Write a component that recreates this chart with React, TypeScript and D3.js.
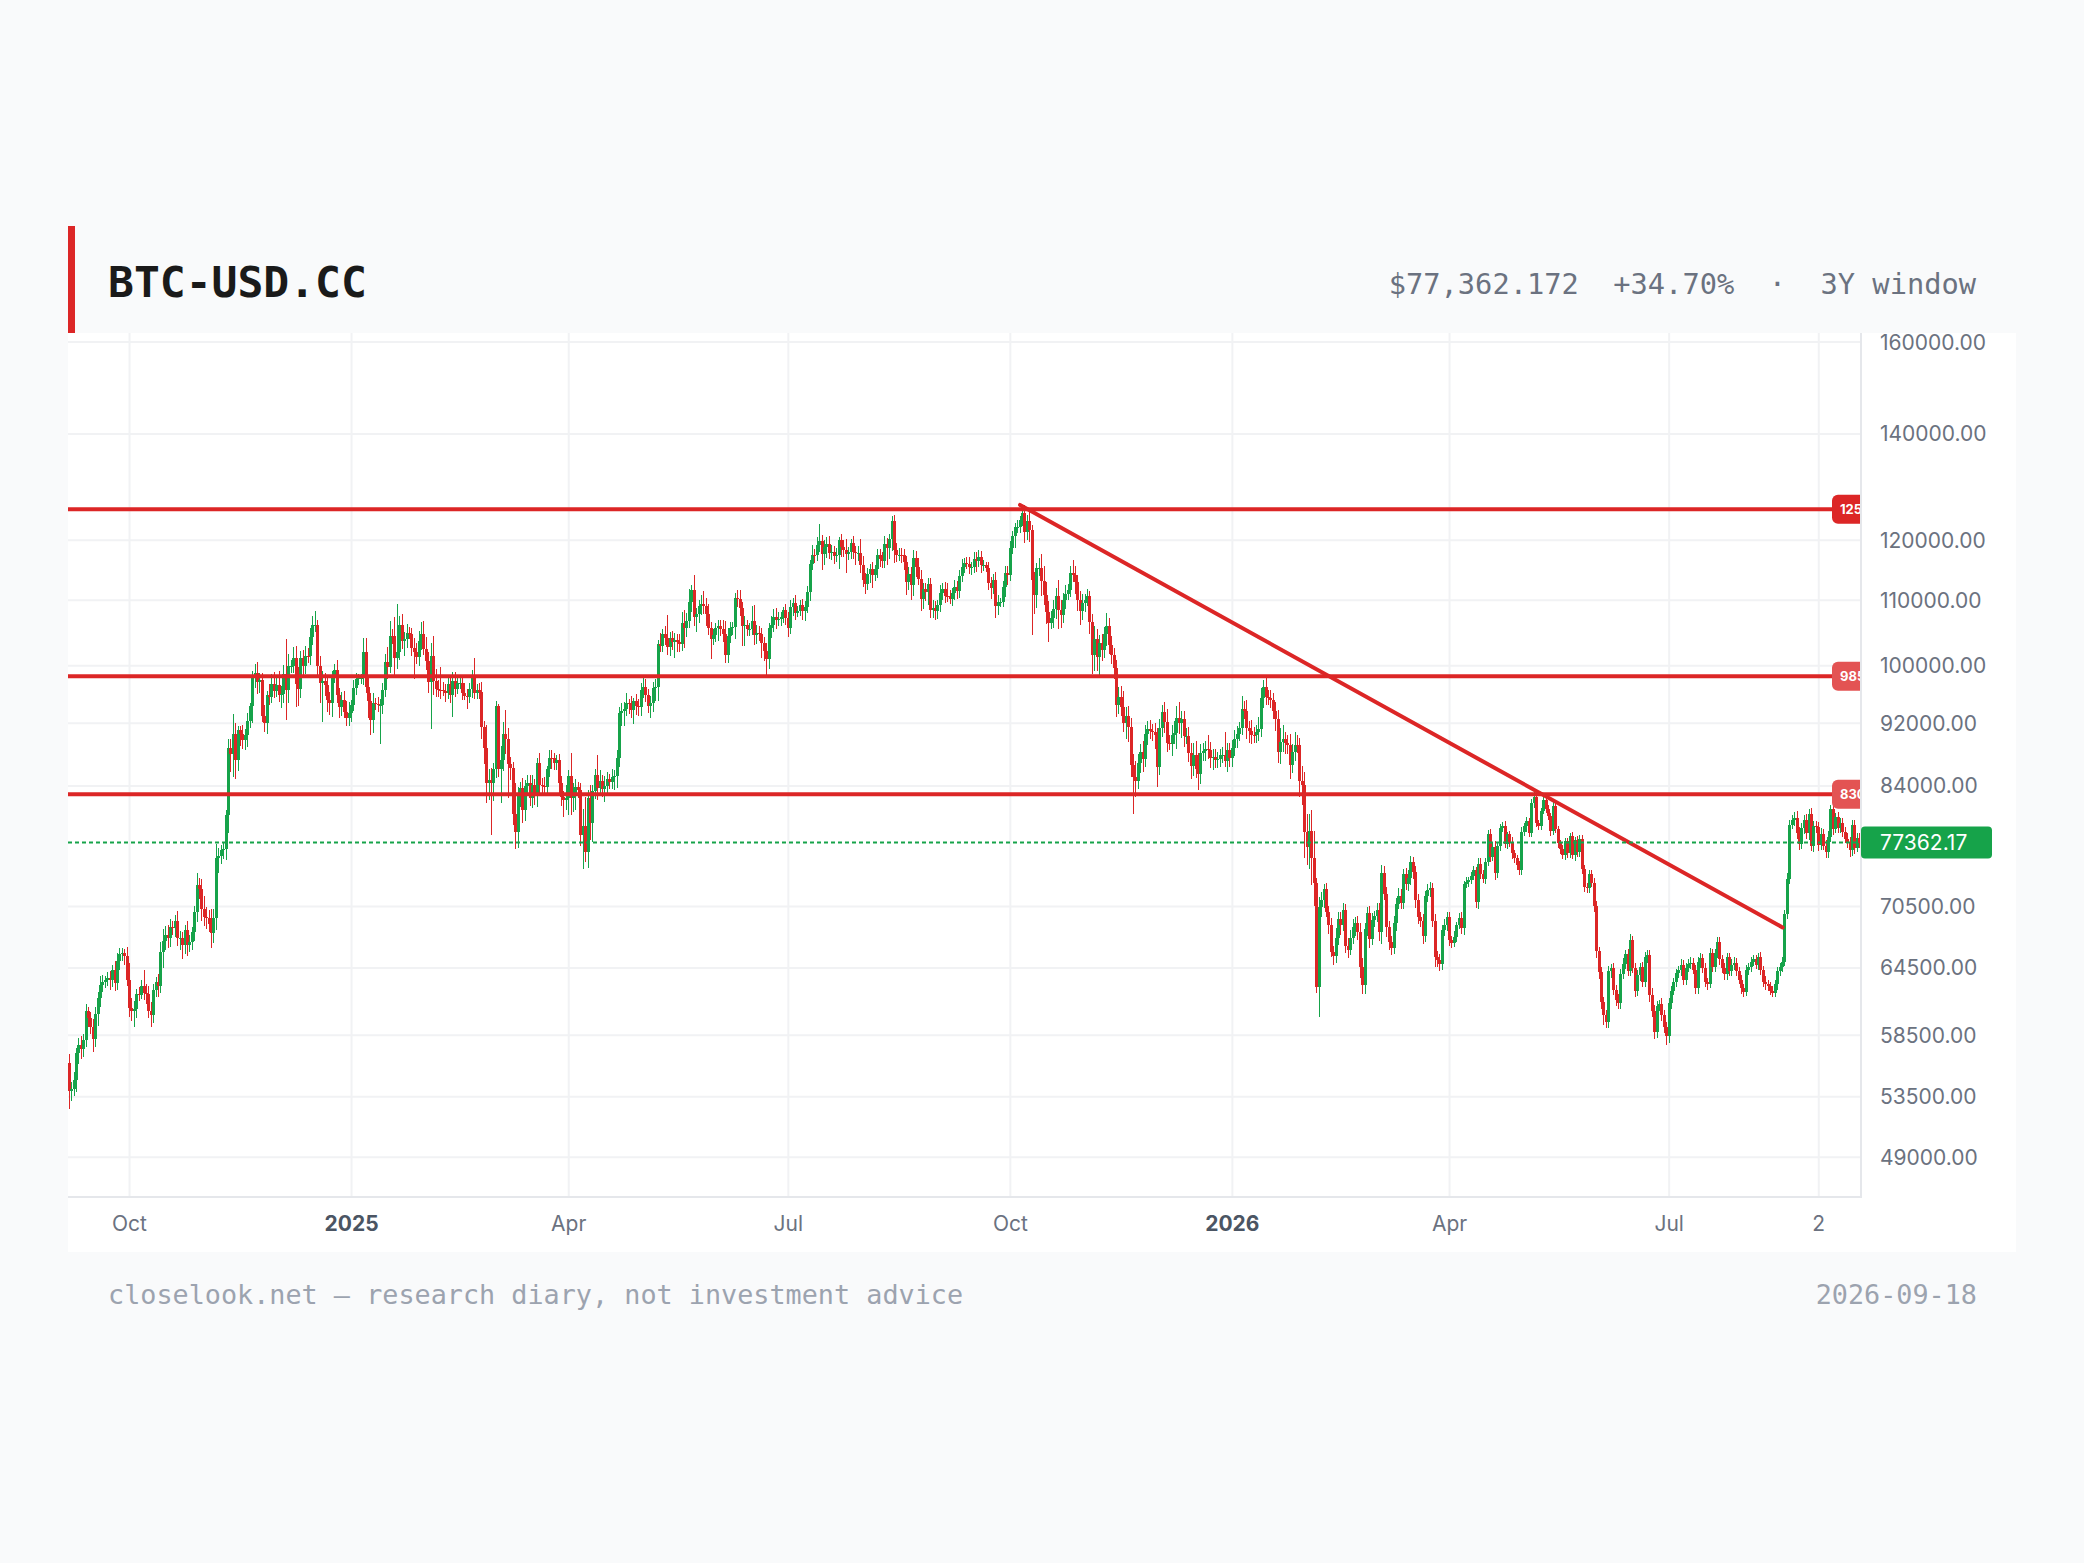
import * as d3 from 'd3';

// daily closes in $k, first bar 2024-09-06, open of each bar = previous close
const startDate = '2024-09-06';
const firstOpen = 56.16;

const closes2024 = [
  53.96, 54.14, 54.84, 57.02, 57.65, 57.34, 58.13, 60.57, 60.0, 59.18, 58.19, 60.31, 61.76, 62.95, 63.2, 63.35, 63.58, 63.34, 64.26, 63.14, 65.18, 65.79, 65.89, 65.6, 63.33,
  60.84, 60.63, 60.75, 62.09, 62.05, 62.82, 62.22, 62.13, 60.58, 60.27, 62.45, 63.19, 62.85, 66.05, 67.04, 67.61, 67.4, 68.42, 68.36, 69.0, 67.37, 67.38, 66.66, 68.16, 66.64, 67.01, 67.93, 69.9, 72.72, 72.34, 70.22,
  69.48, 69.35, 68.74, 67.81, 69.36, 75.64, 75.9, 76.55, 76.68, 80.47, 88.7, 87.96, 90.58, 87.25, 91.07, 90.56, 89.85, 90.46, 92.31, 94.29, 98.33, 98.89, 97.67, 97.9, 93.01, 91.97, 95.86, 95.64, 97.46, 96.41,
  97.19, 95.87, 96.0, 98.77, 96.59, 99.92, 99.92, 101.17, 97.4, 96.68, 101.17, 100.04, 101.46, 101.37, 104.3, 106.03, 106.14, 100.04, 97.49, 97.76, 97.22, 95.1, 94.69, 98.68, 99.43, 95.79, 94.16, 95.16, 93.56, 92.64, 93.43,
];

const closes2025 = [
  94.42, 96.89, 98.11, 98.24, 98.31, 102.08, 96.92, 95.04, 92.48, 94.7, 94.57, 94.49, 94.52, 96.53, 100.5, 99.76, 104.46, 104.41, 101.09, 102.02, 106.15, 103.65, 103.96, 104.82, 104.71, 102.68, 102.09, 101.33, 103.73, 104.74, 102.41,
  100.66, 97.69, 101.41, 97.87, 96.62, 96.59, 96.53, 96.45, 96.07, 97.43, 95.78, 97.87, 96.62, 97.51, 97.57, 96.12, 95.75, 95.53, 96.63, 98.33, 96.13, 96.58, 96.27, 91.55, 88.74, 84.35, 84.7, 84.37,
  86.03, 94.27, 86.12, 87.22, 90.62, 89.96, 86.74, 86.15, 80.6, 78.53, 82.86, 83.72, 81.07, 83.97, 84.34, 82.58, 84.08, 82.72, 86.85, 84.17, 84.04, 83.83, 86.05, 87.5, 87.47, 86.9, 87.18, 84.35, 82.6, 82.33, 82.55,
  85.17, 82.49, 83.1, 83.84, 83.5, 78.21, 79.24, 76.27, 82.57, 79.63, 83.4, 85.29, 83.74, 84.59, 83.67, 84.03, 84.89, 84.45, 85.06, 85.17, 87.52, 93.44, 93.69, 93.94, 94.72, 94.65, 93.75, 95.04, 94.28, 94.21,
  96.49, 96.91, 95.89, 94.32, 94.75, 96.83, 97.03, 103.24, 102.97, 104.7, 104.11, 102.81, 104.17, 103.54, 103.74, 103.49, 103.19, 106.45, 105.61, 106.79, 109.67, 111.67, 107.29, 107.79, 109.03, 109.44, 108.99, 107.8, 105.64, 103.99, 104.64,
  105.65, 105.88, 105.43, 104.73, 101.58, 104.39, 105.62, 105.79, 110.29, 110.26, 108.69, 105.93, 106.09, 105.47, 105.55, 106.79, 104.6, 104.88, 104.66, 103.3, 102.12, 100.96, 105.58, 106.05, 107.32, 106.95, 107.1, 107.35, 108.37, 107.14,
  105.7, 108.85, 109.58, 108.0, 108.23, 109.2, 108.26, 108.92, 111.23, 115.99, 117.52, 117.44, 119.12, 119.84, 117.68, 118.75, 119.29, 117.75, 117.93, 117.3, 117.44, 119.96, 118.76, 118.36, 117.64, 117.95, 119.45, 118.0, 117.83, 117.84, 115.76,
  113.3, 112.55, 114.22, 115.07, 114.14, 115.03, 117.5, 116.69, 116.5, 119.31, 118.73, 120.17, 123.34, 118.36, 117.4, 117.49, 117.45, 116.25, 112.87, 114.27, 112.42, 116.87, 115.38, 113.46, 110.12, 111.8, 111.26, 112.56, 108.38, 108.82, 108.24,
  109.25, 111.2, 111.72, 110.72, 110.65, 110.22, 111.17, 112.07, 111.53, 113.96, 115.5, 116.1, 115.95, 115.41, 115.44, 116.78, 116.44, 117.14, 115.69, 115.72, 115.31, 112.75, 112.01, 113.33, 109.05, 109.68, 109.68, 112.12, 114.4, 114.06,
  118.65, 120.68, 122.27, 122.39, 123.53, 124.75, 121.45, 123.35, 121.7, 113.21, 110.81, 115.17, 115.27, 113.12, 110.76, 108.19, 106.47, 107.2, 108.67, 110.59, 108.48, 107.6, 110.07, 111.03, 111.64, 114.47, 114.12, 112.96, 110.06, 108.31, 109.56,
  110.06, 110.64, 106.55, 101.59, 103.89, 101.3, 103.37, 102.28, 104.72, 105.99, 103.06, 101.65, 99.7, 94.4, 95.55, 94.18, 92.09, 92.95, 91.55, 86.64, 85.09, 84.65, 86.83, 88.27, 87.34, 90.52, 91.29, 90.92, 90.85, 90.39,
  86.32, 91.35, 93.53, 92.14, 89.39, 89.27, 90.41, 90.64, 92.69, 92.02, 92.51, 90.27, 90.3, 88.17, 86.43, 87.84, 86.14, 85.46, 88.1, 88.34, 88.62, 88.49, 87.41, 87.61, 87.23, 87.3, 87.8, 87.84, 87.14, 88.43, 87.51,
];

const closes2026 = [
  88.73, 89.94, 90.6, 91.41, 93.88, 93.7, 91.3, 91.0, 90.5, 90.4, 90.8, 91.2, 95.4, 97.0, 95.6, 95.5, 95.1, 93.7, 92.6, 88.3, 89.5, 89.9, 89.4, 89.2, 86.6, 88.3, 89.2, 89.1, 84.6, 84.1, 78.6,
  76.9, 78.7, 75.7, 73.0, 62.7, 70.5, 71.2, 72.3, 70.0, 68.6, 66.0, 65.6, 67.4, 69.2, 68.6, 70.2, 66.6, 66.2, 67.4, 68.4, 68.8, 67.9, 64.6, 62.9, 68.2, 69.8, 67.3, 69.1,
  69.5, 70.2, 67.9, 74.0, 71.8, 68.4, 67.0, 66.4, 68.8, 70.8, 71.6, 70.9, 73.9, 72.8, 73.5, 75.2, 74.1, 71.2, 69.4, 69.0, 67.6, 71.6, 72.2, 72.4, 69.0, 65.5, 65.2, 64.9, 68.1, 68.6, 69.4,
  67.2, 66.9, 67.5, 68.6, 69.3, 68.3, 72.8, 73.1, 73.3, 73.7, 74.3, 71.0, 75.0, 73.9, 73.4, 75.2, 78.3, 75.8, 76.9, 74.0, 77.0, 79.0, 79.3, 77.2, 78.3, 77.4, 76.2, 75.6, 74.9, 74.3,
  78.6, 79.2, 79.8, 78.5, 81.9, 82.6, 79.6, 79.3, 81.0, 82.3, 81.2, 80.4, 78.7, 81.6, 78.9, 77.3, 76.6, 76.0, 77.5, 76.2, 78.1, 76.0, 77.6, 76.3, 77.8, 74.5, 72.5, 72.4, 73.9, 73.0, 70.6,
  66.1, 64.1, 61.4, 60.2, 59.6, 64.2, 64.5, 62.5, 61.6, 61.3, 63.9, 64.9, 65.8, 64.2, 67.2, 64.5, 62.4, 63.8, 64.6, 63.2, 65.5, 65.7, 62.0, 60.6, 58.8, 61.0, 61.2, 60.2, 59.2, 58.4,
  61.3, 62.4, 63.2, 64.0, 64.3, 64.8, 63.4, 64.5, 64.9, 65.0, 64.3, 62.6, 65.1, 65.4, 64.5, 63.2, 63.0, 65.9, 64.6, 65.9, 67.0, 65.3, 64.5, 63.9, 65.5, 64.2, 64.8, 65.0, 64.2, 63.4, 62.6,
  62.3, 64.3, 64.6, 65.1, 65.3, 64.8, 65.5, 64.3, 63.2, 63.0, 62.8, 62.4, 62.2, 63.0, 64.2, 64.6, 65.1, 69.7, 73.4, 79.4, 79.9, 80.2, 78.5, 77.2, 79.0, 79.9, 78.4, 80.6, 77.0, 79.2, 79.1,
  77.1, 78.3, 77.0, 76.3, 78.0, 81.2, 78.9, 80.3, 79.0, 79.6, 78.6, 77.8, 77.4, 76.5, 79.4, 76.8, 77.9, 77.36217,
];

// wick above the body / below the body, in $100
const highWick2024 = [
  8, 5, 6, 4, 6, 8, 5, 6, 4, 5, 7, 6, 5, 8, 6, 4, 5, 6, 5, 9, 7, 6, 5, 4, 9,
  16, 9, 7, 5, 6, 6, 15, 8, 7, 8, 6, 5, 7, 9, 12, 9, 10, 8, 6, 6, 11, 7, 6, 5, 9, 6, 5, 7, 13, 8, 10,
  14, 10, 8, 15, 9, 16, 9, 6, 7, 6, 12, 12, 26, 14, 6, 6, 12, 8, 10, 5, 9, 14, 16, 10, 11, 14, 6, 15, 14, 16,
  12, 20, 11, 14, 52, 18, 9, 16, 17, 24, 10, 12, 15, 12, 14, 15, 22, 8, 14, 15, 12, 12, 12, 5, 8, 14, 10, 11, 12, 15, 14,
];
const lowWick2024 = [
  14, 8, 6, 10, 9, 8, 7, 6, 8, 6, 11, 7, 10, 8, 7, 6, 5, 9, 6, 8, 7, 9, 6, 8, 5,
  8, 9, 14, 8, 6, 4, 7, 9, 6, 11, 7, 6, 10, 7, 16, 8, 10, 9, 7, 9, 8, 12, 13, 8, 10, 6, 8, 9, 10, 11, 12,
  9, 11, 8, 14, 9, 12, 16, 9, 10, 12, 20, 22, 29, 24, 14, 16, 12, 14, 16, 10, 22, 15, 17, 16, 9, 11, 14, 12, 9, 10,
  8, 10, 18, 12, 41, 18, 9, 10, 32, 24, 12, 14, 12, 10, 12, 12, 10, 14, 28, 53, 15, 16, 16, 18, 12, 10, 14, 12, 8, 10, 10,
];
const highWick2025 = [
  8, 10, 8, 6, 5, 20, 20, 14, 11, 14, 8, 10, 8, 10, 12, 22, 22, 10, 30, 73, 14, 17, 10, 14, 10, 10, 15, 12, 14, 18, 20,
  18, 14, 20, 30, 16, 14, 33, 12, 10, 10, 12, 13, 12, 10, 8, 8, 14, 10, 9, 10, 28, 8, 9, 14, 8, 30, 14, 15,
  8, 7, 4, 18, 15, 32, 14, 9, 8, 38, 10, 8, 12, 8, 10, 10, 12, 8, 6, 12, 8, 10, 4, 10, 10, 6, 7, 8, 9, 8, 16,
  8, 30, 12, 10, 6, 8, 20, 34, 9, 16, 7, 8, 26, 14, 8, 12, 8, 6, 10, 8, 10, 8, 10, 10, 14, 6, 10, 4, 10, 10,
  10, 14, 12, 8, 10, 8, 10, 6, 16, 8, 12, 36, 8, 10, 12, 10, 12, 16, 20, 12, 22, 8, 24, 10, 10, 14, 20, 14, 16, 10, 8,
  8, 10, 10, 14, 20, 12, 10, 8, 8, 14, 14, 10, 14, 8, 8, 22, 24, 12, 10, 10, 10, 12, 8, 14, 12, 14, 10, 8, 6, 10,
  10, 12, 8, 12, 8, 8, 10, 10, 10, 6, 16, 10, 14, 30, 10, 12, 12, 14, 12, 10, 12, 6, 12, 12, 18, 8, 8, 12, 10, 12, 24,
  16, 12, 10, 8, 12, 8, 10, 10, 12, 14, 10, 10, 10, 11, 12, 12, 12, 10, 10, 12, 12, 14, 12, 16, 14, 10, 10, 10, 10, 12, 10,
  8, 12, 10, 12, 20, 10, 8, 12, 10, 10, 12, 8, 10, 12, 8, 12, 12, 12, 10, 8, 6, 10, 10, 10, 12, 12, 6, 10, 12, 12,
  12, 10, 8, 12, 8, 15, 16, 12, 18, 10, 14, 10, 16, 24, 24, 22, 16, 10, 14, 14, 26, 16, 10, 14, 10, 12, 22, 14, 12, 14, 14,
  10, 12, 8, 12, 20, 16, 12, 14, 10, 20, 12, 14, 10, 12, 14, 16, 22, 12, 14, 12, 14, 20, 12, 10, 14, 12, 10, 12, 10, 12,
  10, 12, 10, 14, 18, 10, 14, 16, 16, 22, 12, 12, 10, 12, 12, 16, 18, 20, 12, 10, 10, 18, 10, 10, 10, 10, 8, 10, 30, 10, 10,
];
const lowWick2025 = [
  12, 8, 10, 8, 8, 11, 8, 23, 20, 18, 8, 10, 52, 13, 9, 16, 8, 12, 28, 16, 12, 12, 22, 13, 8, 12, 40, 10, 14, 14, 8,
  12, 15, 65, 20, 10, 10, 12, 8, 12, 8, 10, 30, 10, 7, 8, 10, 6, 16, 8, 12, 9, 9, 10, 16, 20, 24, 20, 62,
  22, 10, 10, 42, 14, 20, 42, 14, 12, 19, 18, 14, 15, 12, 8, 10, 12, 10, 12, 10, 12, 10, 8, 10, 14, 10, 10, 12, 10, 20, 12,
  20, 20, 16, 20, 10, 12, 38, 10, 17, 20, 22, 10, 14, 10, 10, 16, 10, 8, 8, 16, 14, 12, 18, 20, 10, 14, 10, 18, 12, 12,
  12, 10, 10, 10, 16, 12, 18, 20, 10, 10, 10, 12, 14, 12, 24, 14, 12, 10, 30, 14, 12, 16, 14, 22, 14, 14, 12, 18, 10, 30, 10,
  12, 20, 10, 12, 12, 12, 10, 10, 18, 14, 12, 30, 30, 10, 10, 10, 16, 14, 10, 22, 14, 26, 14, 14, 10, 14, 10, 12, 10, 10,
  14, 10, 14, 12, 6, 8, 14, 16, 10, 14, 10, 14, 10, 12, 28, 20, 18, 10, 12, 14, 10, 24, 16, 12, 32, 10, 12, 12, 20, 14, 14,
  12, 16, 10, 14, 22, 10, 14, 12, 12, 12, 30, 20, 20, 22, 12, 10, 14, 14, 20, 12, 24, 18, 16, 10, 18, 16, 14, 20, 12, 12, 14,
  12, 12, 12, 12, 10, 8, 12, 12, 14, 12, 10, 10, 8, 12, 14, 10, 18, 10, 12, 10, 8, 12, 18, 10, 18, 14, 8, 8, 16, 16,
  10, 10, 20, 10, 12, 10, 20, 14, 20, 86, 30, 20, 12, 24, 16, 20, 30, 10, 16, 16, 30, 20, 12, 14, 10, 12, 12, 20, 18, 22, 14,
  14, 10, 18, 28, 24, 20, 26, 16, 12, 18, 14, 14, 16, 16, 12, 12, 12, 22, 20, 16, 45, 20, 10, 12, 16, 10, 14, 10, 12, 18,
  25, 10, 12, 14, 12, 8, 16, 12, 20, 14, 20, 14, 10, 12, 16, 12, 12, 20, 12, 10, 12, 12, 12, 14, 10, 10, 10, 10, 8, 14, 12,
];
const highWick2026 = [
  10, 12, 10, 8, 18, 12, 14, 10, 14, 10, 10, 16, 14, 9, 12, 10, 10, 10, 12, 12, 18, 18, 10, 10, 14, 10, 16, 12, 10, 18, 16,
  20, 20, 24, 30, 5, 10, 8, 6, 7, 6, 7, 6, 9, 7, 8, 7, 6, 8, 7, 8, 6, 7, 9, 8, 6, 7, 8, 7,
  6, 7, 7, 9, 8, 7, 6, 6, 7, 6, 8, 7, 6, 7, 8, 7, 6, 7, 6, 6, 7, 5, 6, 7, 6, 7, 6, 6, 5, 6, 6,
  5, 4, 5, 3, 5, 6, 4, 5, 3, 4, 5, 4, 6, 7, 4, 4, 5, 6, 4, 6, 3, 5, 4, 5, 3, 4, 6, 3, 4, 4,
  5, 4, 5, 4, 5, 6, 5, 4, 4, 5, 5, 5, 4, 5, 4, 4, 4, 5, 4, 4, 4, 5, 4, 5, 4, 4, 4, 5, 4, 4, 5,
  5, 4, 5, 4, 5, 5, 4, 5, 4, 5, 5, 5, 4, 5, 6, 4, 5, 5, 4, 5, 5, 5, 5, 6, 5, 5, 4, 5, 5, 4,
  4, 4, 4, 4, 4, 5, 4, 5, 4, 5, 4, 5, 4, 5, 4, 5, 4, 5, 4, 4, 5, 5, 4, 5, 4, 4, 5, 5, 4, 4, 4,
  4, 5, 4, 4, 4, 4, 4, 5, 4, 5, 4, 4, 4, 4, 4, 4, 4, 5, 6, 6, 6, 7, 8, 6, 6, 6, 7, 6, 7, 6, 6,
  6, 7, 6, 6, 7, 5, 6, 5, 6, 6, 6, 5, 7, 6, 6, 5, 6, 5,
];
const lowWick2026 = [
  12, 10, 12, 10, 10, 12, 14, 16, 12, 10, 10, 12, 10, 14, 12, 10, 10, 12, 16, 14, 16, 12, 14, 12, 18, 10, 12, 10, 20, 24, 30,
  20, 24, 30, 24, 5, 26, 11, 8, 6, 8, 5, 8, 6, 7, 9, 6, 7, 8, 5, 6, 8, 7, 10, 8, 8, 6, 9, 6,
  7, 6, 8, 11, 6, 9, 8, 7, 6, 8, 5, 6, 6, 6, 7, 8, 7, 8, 7, 6, 8, 6, 6, 7, 6, 9, 6, 7, 6, 5, 6,
  6, 5, 4, 5, 4, 5, 6, 4, 6, 5, 4, 6, 7, 5, 4, 5, 4, 6, 5, 7, 5, 6, 4, 4, 5, 5, 7, 5, 6, 5,
  5, 5, 6, 5, 5, 6, 5, 5, 5, 4, 4, 5, 6, 5, 5, 5, 5, 5, 6, 5, 5, 5, 7, 5, 5, 6, 5, 5, 5, 5, 7,
  7, 6, 6, 8, 5, 5, 6, 5, 6, 5, 5, 4, 5, 5, 5, 5, 6, 5, 5, 5, 5, 5, 6, 5, 6, 5, 4, 5, 5, 7,
  6, 5, 4, 5, 4, 6, 5, 5, 4, 5, 4, 5, 5, 6, 5, 5, 5, 4, 5, 5, 5, 5, 5, 5, 5, 5, 5, 5, 5, 4, 5,
  5, 4, 5, 5, 4, 4, 5, 5, 5, 5, 4, 4, 4, 4, 5, 5, 5, 4, 5, 6, 5, 6, 7, 7, 6, 7, 6, 7, 6, 7, 6,
  7, 6, 5, 6, 7, 6, 7, 5, 6, 5, 6, 5, 6, 7, 6, 7, 5, 6,
];

const priceTicks = [160000, 140000, 120000, 110000, 100000, 92000, 84000, 70500, 64500, 58500, 53500, 49000];
const timeTickDates = ['2024-10-01', '2025-01-01', '2025-04-01', '2025-07-01', '2025-10-01', '2026-01-01', '2026-04-01', '2026-07-01', '2026-09-01'];
const timeTickLabels = ['Oct', '2025', 'Apr', 'Jul', 'Oct', '2026', 'Apr', 'Jul', '2'];

const levelPrices = [125500, 98500, 83000];
// badge labels are cut off by the price scale, only the first digits show
const levelLabels = ['1255', '9850', '8300'];
const levelColors = ['#dc2626', '#e35353', '#e35353'];

const trendDates = ['2025-10-05', '2026-08-17'];
const trendPrices = [126300, 68400];

const lastPrice = 77362.17;
const headerStats = ['$77,362.172', '+34.70%', '·', '3Y window'];

const W = 2084;
const H = 1563;
const plot = { left: 68, right: 1861, top: 333, bottom: 1197 };
const UP = '#16a34a';
const DOWN = '#dc2626';
const axisFont = 'Inter, "Noto Sans", sans-serif';
const monoFont = '"DejaVu Sans Mono", "Liberation Mono", monospace';

export default function App() {
  const closes = [...closes2024, ...closes2025, ...closes2026];
  const highWick = [...highWick2024, ...highWick2025, ...highWick2026];
  const lowWick = [...lowWick2024, ...lowWick2025, ...lowWick2026];
  const n = closes.length;
  const start = new Date(startDate + 'T00:00:00Z');
  const dayIndex = (s: string) => d3.utcDay.count(start, new Date(s + 'T00:00:00Z'));

  const x = d3.scaleBand<number>().domain(d3.range(n)).range([plot.left, plot.right]).padding(0);
  const cx = (i: number) => (x(i) ?? 0) + x.bandwidth() / 2;
  const y = d3.scaleLog().domain([46251, 162104]).range([plot.bottom, plot.top]);

  const candles = closes.map((c, i) => {
    const o = i === 0 ? firstOpen : closes[i - 1];
    const hi = Math.max(o, c) + (highWick[i] ?? 0) / 10;
    const lo = Math.min(o, c) - (lowWick[i] ?? 0) / 10;
    return { i, o: o * 1000, c: c * 1000, h: hi * 1000, l: lo * 1000 };
  });

  const lastY = y(lastPrice);
  const t0 = dayIndex(trendDates[0]);
  const t1 = dayIndex(trendDates[1]);

  return (
    <svg width={W} height={H} style={{ position: 'absolute', left: 0, top: 0 }}>
      <rect width={W} height={H} fill="#f9fafb" />

      {/* header */}
      <rect x={68} y={226} width={7} height={107} fill="#dc2626" />
      <text x={108} y={297} fontFamily={monoFont} fontWeight={700} fontSize={43} fill="#1a1a1a">
        BTC-USD.CC
      </text>
      <text x={1976} y={294} textAnchor="end" fontFamily={monoFont} fontSize={28.7} fill="#6b7280" style={{ whiteSpace: 'pre' }}>
        {headerStats.join('  ')}
      </text>

      {/* chart panel */}
      <rect x={68} y={333} width={2016 - 68} height={1252 - 333} fill="#ffffff" />
      <defs>
        <clipPath id="plotClip">
          <rect x={plot.left} y={plot.top} width={plot.right - plot.left} height={plot.bottom - plot.top} />
        </clipPath>
      </defs>

      <g>
        {priceTicks.map((p) => (
          <line key={p} x1={plot.left} x2={plot.right} y1={y(p)} y2={y(p)} stroke="#f1f2f4" strokeWidth={2} />
        ))}
        {timeTickDates.map((d) => (
          <line key={d} x1={cx(dayIndex(d))} x2={cx(dayIndex(d))} y1={plot.top} y2={plot.bottom} stroke="#f1f2f4" strokeWidth={2} />
        ))}
      </g>

      <g clipPath="url(#plotClip)">
        <g shapeRendering="crispEdges">
          {candles.map((d) => {
            const col = d.c >= d.o ? UP : DOWN;
            const yt = y(Math.max(d.o, d.c));
            const yb = y(Math.min(d.o, d.c));
            const c = cx(d.i);
            const bx0 = Math.round(c - 1.5);
            const wx = Math.floor(c) + 0.5;
            return (
              <g key={d.i}>
                <line x1={wx} x2={wx} y1={y(d.h)} y2={y(d.l)} stroke={col} strokeWidth={1} />
                <rect x={bx0} y={yt} width={3} height={Math.max(1, yb - yt)} fill={col} />
              </g>
            );
          })}
        </g>

        {levelPrices.map((p) => (
          <line key={p} x1={plot.left} x2={plot.right} y1={y(p)} y2={y(p)} stroke="#dc2626" strokeWidth={4} />
        ))}

        <line
          x1={cx(t0)}
          y1={y(trendPrices[0])}
          x2={cx(t1)}
          y2={y(trendPrices[1])}
          stroke="#dc2626"
          strokeWidth={4}
          strokeLinecap="round"
        />

        <line x1={plot.left} x2={plot.right} y1={lastY} y2={lastY} stroke={UP} strokeWidth={2} strokeDasharray="4 3" />

        {levelPrices.map((p, k) => (
          <g key={'b' + p}>
            <rect x={1832} y={y(p) - 14.5} width={44} height={29} rx={6} fill={levelColors[k]} />
            <text x={1840} y={y(p)} dominantBaseline="central" fontFamily={axisFont} fontWeight={700} fontSize={13} fill="#fff">
              {levelLabels[k]}
            </text>
          </g>
        ))}
      </g>

      {/* axis borders */}
      <line x1={plot.right} x2={plot.right} y1={plot.top} y2={plot.bottom + 1} stroke="#e5e7eb" strokeWidth={2} />
      <line x1={plot.left} x2={plot.right + 1} y1={plot.bottom} y2={plot.bottom} stroke="#e5e7eb" strokeWidth={2} />

      {/* price axis */}
      {priceTicks.map((p) => (
        <text key={p} x={1880} y={y(p)} dominantBaseline="central" fontFamily={axisFont} fontSize={21} fill="#6b7280">
          {d3.format('.2f')(p)}
        </text>
      ))}
      <rect x={plot.right} y={lastY - 16} width={131} height={32} rx={4} fill={UP} />
      <text x={1880} y={lastY} dominantBaseline="central" fontFamily={axisFont} fontSize={21} fill="#ffffff">
        {lastPrice.toFixed(2)}
      </text>

      {/* time axis */}
      {timeTickDates.map((d, k) => {
        const isYear = /^\d{4}$/.test(timeTickLabels[k]);
        return (
          <text
            key={d}
            x={cx(dayIndex(d))}
            y={1223}
            textAnchor="middle"
            dominantBaseline="central"
            fontFamily={axisFont}
            fontSize={21}
            fontWeight={isYear ? 700 : 400}
            fill={isYear ? '#4b5563' : '#6b7280'}
          >
            {timeTickLabels[k]}
          </text>
        );
      })}

      {/* footer */}
      <text x={108} y={1304} fontFamily={monoFont} fontSize={26.8} fill="#9ca3af">
        closelook.net — research diary, not investment advice
      </text>
      <text x={1977} y={1304} textAnchor="end" fontFamily={monoFont} fontSize={26.8} fill="#9ca3af">
        2026-09-18
      </text>
    </svg>
  );
}
